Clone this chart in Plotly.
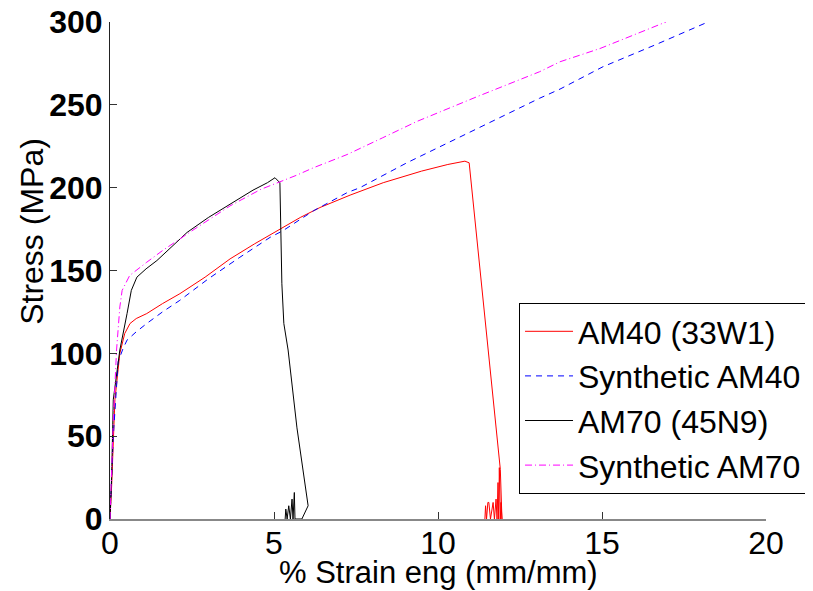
import plotly.graph_objects as go

# AM40 (33W1) experimental curve (strain %, stress MPa)
am40_strain = [0, 0.05, 0.15, 0.3, 0.45, 0.61, 0.8, 1.12, 1.6, 2.13, 2.9, 3.66, 4.4, 5.18, 5.8, 6.4, 7.32,
               8.33, 9.5, 10.3, 10.82, 10.95, 11.2, 11.5, 11.75, 11.9, 11.95,
               11.92, 11.9, 11.87, 11.85, 11.83, 11.8, 11.77, 11.72, 11.68, 11.6, 11.55, 11.52, 11.48, 11.45, 11.43]
am40_stress = [0, 20, 72, 100, 112, 118, 121, 124, 130, 136, 146, 157, 166, 175, 182, 188, 195.5,
               203, 210, 214, 216, 215, 166, 109, 62, 30, 0,
               10, 0, 31, 0, 22, 0, 12, 0, 10, 0, 10, 10, 0, 8, 0]

# Synthetic AM40
syn40_strain = [0, 0.1, 0.25, 0.4, 0.52, 0.8, 1.12, 1.6, 2.13, 3.0, 3.96, 4.88, 5.27, 6.2, 7.23, 7.62, 9.05,
                11.0, 13.1, 13.72, 15.03, 16.6, 18.23]
syn40_stress = [0, 50, 95, 103, 108, 113, 118, 125, 132, 145, 158, 170, 174, 186, 197, 200, 215,
                234, 254, 259.5, 273, 286, 300]

# AM70 (45N9) experimental curve
am70_strain = [0, 0.05, 0.1, 0.3, 0.52, 0.65, 0.82, 1.1, 1.43, 1.9, 2.35, 3.0, 3.66, 4.36, 4.8, 5.03, 5.18,
               5.21, 5.24, 5.30, 5.43, 5.7, 6.04, 5.85,
               5.64, 5.62, 5.58, 5.55, 5.5, 5.45, 5.4, 5.36, 5.34]
am70_stress = [0, 25, 72, 102, 124, 138, 146, 151, 156, 165, 173, 182, 190, 198.5, 203, 206, 203,
               160, 142, 118, 102, 55, 8, 0,
               0, 16, 0, 12, 0, 8, 0, 6, 0]

# Synthetic AM70
syn70_strain = [0, 0.1, 0.2, 0.3, 0.37, 0.6, 1.12, 1.6, 2.5, 3.66, 4.6, 5.7, 6.2, 7.23, 8.3, 9.36, 11.2,
                13.1, 13.72, 14.94, 16.95]
syn70_stress = [0, 60, 102, 128, 138, 147, 155, 162, 174, 189, 199, 207.6, 212, 220, 230, 240, 255,
                270, 276, 284, 300]

series_names = ["AM40 (33W1)", "Synthetic AM40", "AM70 (45N9)", "Synthetic AM70"]
x_ticks = [0, 5, 10, 15, 20]
y_ticks = [0, 50, 100, 150, 200, 250, 300]
x_title = "% Strain eng (mm/mm)"
y_title = "Stress (MPa)"

FONT = "Liberation Sans, Arial, sans-serif"

fig = go.Figure()
fig.add_trace(go.Scatter(x=am40_strain, y=am40_stress, mode="lines", name=series_names[0],
                         line=dict(color="#ff0000", width=1)))
fig.add_trace(go.Scatter(x=syn40_strain, y=syn40_stress, mode="lines", name=series_names[1],
                         line=dict(color="#0000ff", width=1, dash="6px,5px")))
fig.add_trace(go.Scatter(x=am70_strain, y=am70_stress, mode="lines", name=series_names[2],
                         line=dict(color="#000000", width=1)))
fig.add_trace(go.Scatter(x=syn70_strain, y=syn70_stress, mode="lines", name=series_names[3],
                         line=dict(color="#ff00ff", width=1, dash="7px,3px,1px,3px")))

# the page body has an 8px default margin, so the figure is made 8px smaller
fig.update_layout(
    width=805, height=583,
    margin=dict(l=102, r=47, t=14, b=72, autoexpand=False),
    paper_bgcolor="white", plot_bgcolor="white",
    font=dict(family=FONT, size=32, color="black"),
    showlegend=True,
    legend=dict(x=0.6235, y=0.4346, xanchor="left", yanchor="top",
                bgcolor="white", bordercolor="black", borderwidth=1,
                font=dict(family=FONT, size=32, color="black"),
                itemwidth=48, tracegroupgap=0),
    xaxis=dict(range=[0, 20], tickvals=x_ticks, ticktext=[str(v) for v in x_ticks],
               showgrid=False, zeroline=False, showline=True, linecolor="#888888", linewidth=2,
               ticks="inside", ticklen=7, tickcolor="#333333", tickwidth=1,
               tickfont=dict(family=FONT, size=32), mirror=False, automargin=False,
               ticklabeloverflow="allow", ticklabelstandoff=-5),
    yaxis=dict(range=[0, 300], tickvals=y_ticks, ticktext=[str(v) for v in y_ticks],
               showgrid=False, zeroline=False, showline=True, linecolor="#222222", linewidth=1,
               ticks="inside", ticklen=7, tickcolor="#333333", tickwidth=1,
               tickfont=dict(family=FONT, size=32, weight="bold"), mirror=False, automargin=False,
               ticklabeloverflow="allow"),
    annotations=[
        dict(text=x_title, xref="paper", yref="paper", x=0.5, y=-0.107,
             xanchor="center", yanchor="middle", showarrow=False,
             font=dict(family=FONT, size=31, color="black")),
        dict(text=y_title, xref="paper", yref="paper", x=-0.118, y=0.579,
             xanchor="center", yanchor="middle", showarrow=False, textangle=-90,
             font=dict(family=FONT, size=32, color="black")),
    ],
)

fig.write_html("out.html")
